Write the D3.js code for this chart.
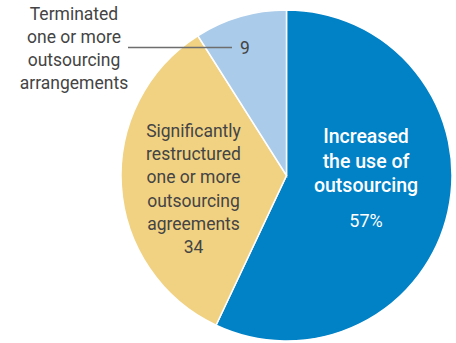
<!DOCTYPE html>
<html><head><meta charset="utf-8">
<script src="https://cdn.jsdelivr.net/npm/d3@7"></script>
<style>body{margin:0;background:#fff}svg{display:block}</style>
</head><body>
<script>
const categories = ["Increased the use of outsourcing", "Significantly restructured one or more outsourcing agreements", "Terminated one or more outsourcing arrangements"];
const values = [57, 34, 9];
const valueLabels = ["57%", "34", "9"];
const colors = ["#0181c6", "#f1d283", "#aacbe9"];

const W = 456, H = 343;
const cx = 286.5, cy = 175.5, R = 165.5;
const svg = d3.select("body").append("svg").attr("width", W).attr("height", H);
const font = "Roboto, 'Liberation Sans', sans-serif";

const pie = d3.pie().sort(null).value(d => d)(values);
const arc = d3.arc().innerRadius(0).outerRadius(R);
const g = svg.append("g").attr("transform", `translate(${cx},${cy})`);
g.selectAll("path").data(pie).join("path")
  .attr("d", arc).attr("fill", (d, i) => colors[i])
  .attr("stroke", "#fff").attr("stroke-width", 1.5);

// Blue slice label
const blueLines = ["Increased", "the use of", "outsourcing"];
svg.append("g").selectAll("text").data(blueLines).join("text")
  .attr("x", 366).attr("y", (d, i) => 143 + i * 24.5)
  .attr("text-anchor", "middle").attr("fill", "#fff")
  .attr("font-family", font).attr("font-weight", 500).attr("font-size", 19.5)
  .text(d => d);
svg.append("text").attr("x", 366).attr("y", 227).attr("text-anchor", "middle")
  .attr("fill", "#fff").attr("font-family", font).attr("font-size", 18).text(valueLabels[0]);

// Yellow slice label
const yLines = ["Significantly", "restructured", "one or more", "outsourcing", "agreements", valueLabels[1]];
svg.append("g").selectAll("text").data(yLines).join("text")
  .attr("x", 193.5).attr("y", (d, i) => 137 + i * 23.2)
  .attr("text-anchor", "middle").attr("fill", "#444")
  .attr("font-family", font).attr("font-size", 17.5)
  .text(d => d);

// Light blue callout
const tLines = ["Terminated", "one or more", "outsourcing", "arrangements"];
svg.append("g").selectAll("text").data(tLines).join("text")
  .attr("x", 74).attr("y", (d, i) => 20 + i * 23)
  .attr("text-anchor", "middle").attr("fill", "#444")
  .attr("font-family", font).attr("font-size", 17.5)
  .text(d => d);
svg.append("line").attr("x1", 128).attr("x2", 232).attr("y1", 47.5).attr("y2", 47.5)
  .attr("stroke", "#6e6e6e").attr("stroke-width", 1.5);
svg.append("text").attr("x", 240).attr("y", 53.5).attr("fill", "#444")
  .attr("font-family", font).attr("font-size", 17.5).text(valueLabels[2]);
</script>
</body></html>
